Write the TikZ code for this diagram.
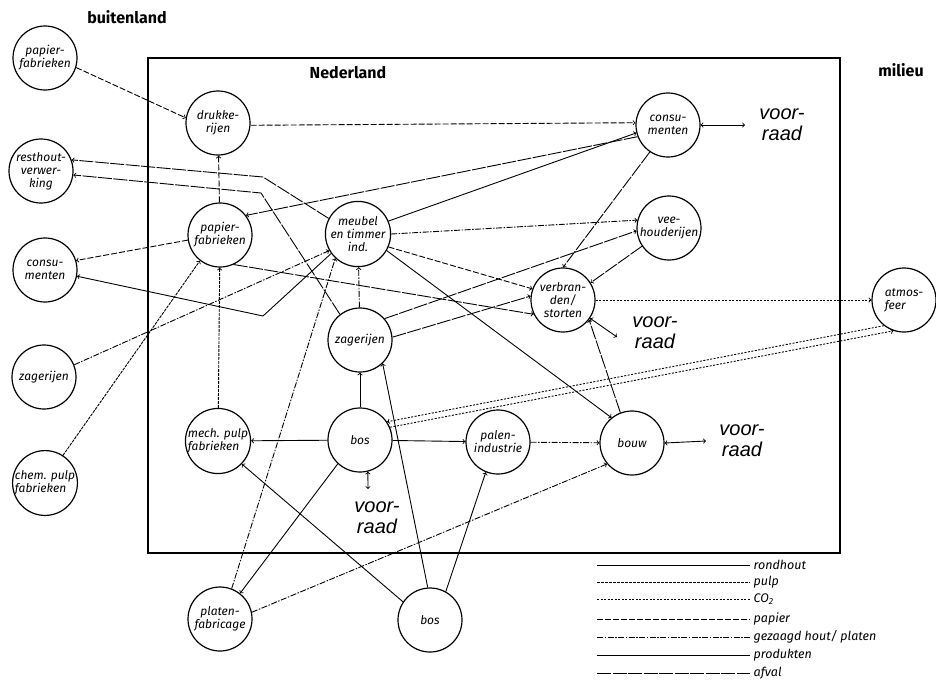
\documentclass[tikz,border=0pt]{standalone}
\usepackage{fontspec}
\setsansfont{Fira Sans}
\newfontfamily\vrfont{Liberation Sans}
\begin{document}
\begin{tikzpicture}[x=1pt,y=-1pt,
    proc/.style={draw, circle, line width=1.2pt, minimum size=64pt, inner sep=0pt, align=center,
        font=\sffamily\itshape\fontsize{12}{13}\selectfont},
    gebied/.style={font=\sffamily\bfseries\fontsize{16}{18}\selectfont},
    voorraad/.style={align=center, inner sep=0pt, font=\vrfont\itshape\fontsize{20}{21}\selectfont},
    legtext/.style={anchor=west, inner sep=0pt, font=\sffamily\itshape\fontsize{12.5}{14}\selectfont},
    rondhout/.style={line width=0.9pt},
    pulp/.style={line width=0.9pt, dash pattern=on 3pt off 1pt},
    cotwee/.style={line width=0.9pt, dash pattern=on 2pt off 1.5pt},
    papier/.style={line width=0.9pt, dash pattern=on 6pt off 2pt},
    gezaagd/.style={line width=0.9pt, dash pattern=on 6pt off 1.5pt on 1.5pt off 1.5pt},
    produkten/.style={line width=0.9pt},
    afval/.style={line width=0.9pt, dash pattern=on 14pt off 1.5pt}]
    \useasboundingbox (0,0) rectangle (936,686);

    \draw[line width=1.6pt] (148,58) rectangle (840,553);
    \node[gebied] (tbu) at (127,17) {buitenland};
    \node[gebied] (tnl) at (348,73) {Nederland};
    \node[gebied] (tmi) at (901,70) {milieu};

    \node[proc] (pfbu) at (45,58) {papier-\\fabrieken};
    \node[proc] (rest) at (41,171) {resthout-\\verwer-\\king};
    \node[proc] (conbu) at (45,270) {consu-\\menten};
    \node[proc] (zagbu) at (44,377) {zagerijen};
    \node[proc, align=left] (chem) at (45,483) {chem. pulp\\fabrieken};

    \node[proc] (druk) at (218,123) {drukke-\\rijen};
    \node[proc] (pfnl) at (220,235) {papier-\\fabrieken};
    \node[proc, align=left] (mech) at (218,441) {mech. pulp\\fabrieken};
    \node[proc] (meub) at (358,234) {meubel\\en timmer\\ind.};
    \node[proc] (zagnl) at (360,340) {zagerijen};
    \node[proc] (bosnl) at (360,440) {bos};
    \node[proc] (palen) at (498,442) {palen-\\industrie};
    \node[proc] (verb) at (563,300) {verbran-\\den/\\storten};
    \node[proc] (bouw) at (632,443) {bouw};
    \node[proc] (connl) at (668,125) {consu-\\menten};
    \node[proc] (vee) at (669,228) {vee-\\houderijen};
    \node[proc, align=left] (atmo) at (904,300) {atmos-\\feer};

    \node[proc] (platen) at (220,619) {platen-\\fabricage};
    \node[proc] (bosbu) at (430,620) {bos};

    \node[voorraad] (vr1) at (782,125) {voor-\\raad};
    \node[voorraad] (vr2) at (655,333) {voor-\\raad};
    \node[voorraad] (vr3) at (742,441) {voor-\\raad};
    \node[voorraad] (vr4) at (377,518) {voor-\\raad};

    \coordinate (k1) at (263,177);
    \coordinate (k2) at (261,193);
    \coordinate (k3) at (263,316);
    \coordinate (e1) at (745,125);
    \coordinate (e2) at (617,337);
    \coordinate (e3) at (706,441);
    \coordinate (e4) at (368,489);

    \draw[->, papier] (pfbu.-17) -- (druk.171);
    \draw[->, papier] (druk.-4) -- (connl.176);
    \draw[->, papier] (pfnl) -- (druk);
    \draw[->, papier] (pfnl.189) -- (conbu.17);
    \draw[->, afval] (connl.201) -- (pfnl.37);
    \draw[->, produkten] (meub.23) -- (connl.194);
    \draw[->, afval] (meub.152) -- (k1) -- (rest.20);
    \draw[->, afval] (zagnl.128) -- (k2) -- (rest.-7);
    \draw[->, produkten] (meub.216) -- (k3) -- (conbu.-11);
    \draw[->, gezaagd] (zagbu.22) -- (meub.210);
    \draw[->, pulp] (chem.57) -- (pfnl.232);
    \draw[->, pulp] (mech) -- (pfnl);
    \draw[->, afval] (pfnl.-65) -- (verb.206);
    \draw[->, gezaagd] (meub.0) -- (vee.166);
    \draw[->, afval] (zagnl.41) -- (vee.185);
    \draw[->, afval] (zagnl.5) -- (verb.173);
    \draw[->, papier] (meub.-23) -- (verb.160);
    \draw[->, afval] (connl.236) -- (verb.90);
    \draw[->, afval] (vee.214) -- (verb.32);
    \draw[->, afval] (bouw.111) -- (verb.-37);
    \draw[->, cotwee] (verb.0) -- (atmo.180);
    \draw[->, cotwee] (atmo.232) -- (bosnl.34);
    \draw[->, cotwee] (bosnl.23) -- (atmo.251);
    \draw[->, rondhout] (bosnl) -- (zagnl);
    \draw[->, gezaagd] (zagnl) -- (meub);
    \draw[->, rondhout] (bosnl) -- (mech);
    \draw[->, rondhout] (bosnl) -- (palen);
    \draw[->, gezaagd] (palen) -- (bouw);
    \draw[->, produkten] (meub.-30) -- (bouw.129);
    \draw[->, rondhout] (bosbu.146) -- (mech.-44);
    \draw[->, rondhout] (bosbu.94) -- (zagnl.-46);
    \draw[->, rondhout] (bosbu.61) -- (palen.248);
    \draw[->, rondhout] (bosnl.227) -- (platen.52);
    \draw[->, gezaagd] (platen.69) -- (meub.227);
    \draw[->, gezaagd] (platen.12) -- (bouw.220);

    \draw[<->, line width=0.9pt] (connl.0) -- (e1);
    \draw[<->, line width=0.9pt] (verb.-34) -- (e2);
    \draw[<->, line width=0.9pt] (bouw.0) -- (e3);
    \draw[<->, line width=0.9pt] (bosnl.-76) -- (e4);

    \draw[rondhout] (597,565) -- (750,565) node[legtext] (l1) {~rondhout};
    \draw[pulp] (597,582) -- (750,582) node[legtext] (l2) {~pulp};
    \draw[cotwee] (597,599) -- (750,599) node[legtext] (l3) {~CO\textsubscript{2}};
    \draw[papier] (597,619) -- (750,619) node[legtext] (l4) {~papier};
    \draw[gezaagd] (597,637) -- (750,637) node[legtext] (l5) {~gezaagd hout/ platen};
    \draw[produkten] (597,655) -- (750,655) node[legtext] (l6) {~produkten};
    \draw[afval] (597,673) -- (750,673) node[legtext] (l7) {~afval};
\end{tikzpicture}
\end{document}
